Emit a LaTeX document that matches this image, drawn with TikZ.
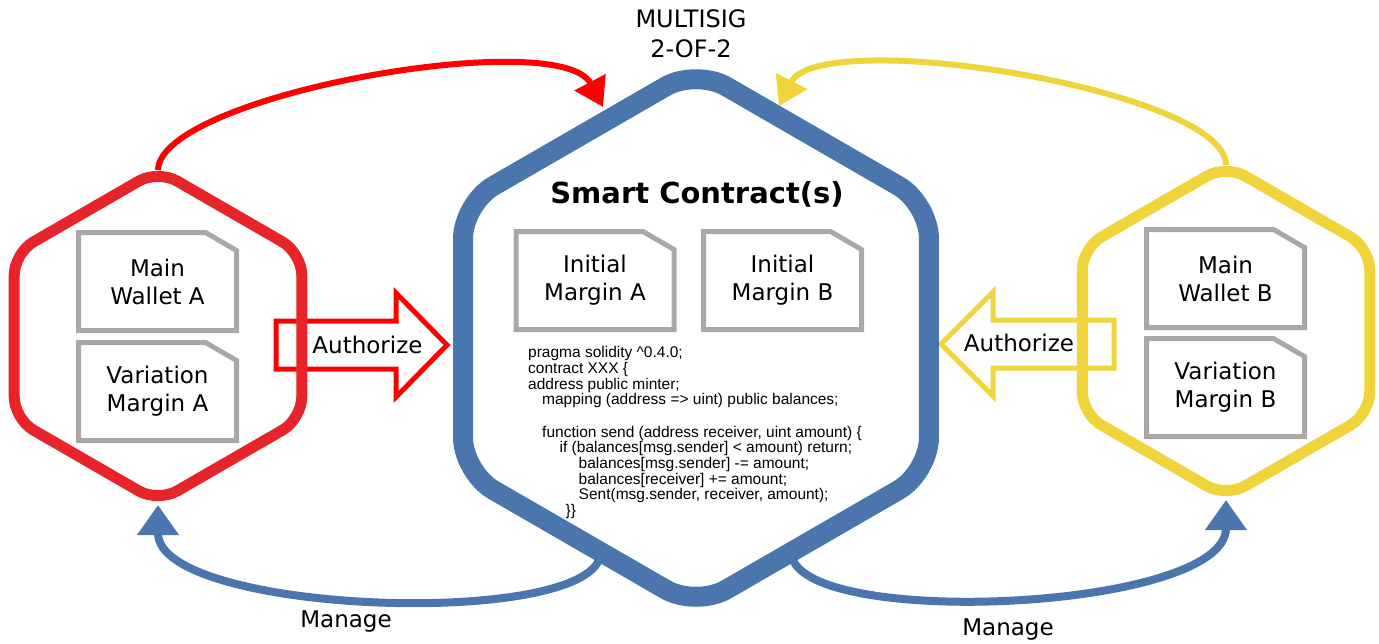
\documentclass[tikz,border=0pt]{standalone}
\usepackage{fontspec}
\setmainfont{DejaVu Sans}
\newfontfamily\codefont{Liberation Sans}
\usetikzlibrary{shapes.geometric, arrows.meta}

\definecolor{hexred}{RGB}{232,36,43}
\definecolor{arrred}{RGB}{255,0,0}
\definecolor{hexblue}{RGB}{74,118,173}
\definecolor{hexyellow}{RGB}{240,212,60}
\definecolor{docgray}{RGB}{171,167,167}

\tikzset{
	hexa/.style={regular polygon, regular polygon sides=6, shape border rotate=30, inner sep=0pt, outer sep=0pt},
	doc/.style={minimum width=158pt, minimum height=98pt, inner sep=0pt, outer sep=0pt, align=center, font=\fontsize{23}{28}\selectfont},
	docline/.style={draw=docgray, line width=5pt, line join=miter},
	txt/.style={font=\fontsize{23}{28}\selectfont, inner sep=0pt},
	authorize/.style={line width=5pt, line join=miter},
	sig/.style={line width=6pt, -{Triangle[length=28pt, width=34pt]}},
	manage/.style={draw=hexblue, line width=8pt, -{Triangle[length=30pt, width=40pt]}}
}

\begin{document}
\begin{tikzpicture}[x=1pt, y=-1pt]
			\useasboundingbox (0,0) rectangle (1379,643);

			% authorize arrows
			\draw[authorize, draw=arrred] (276,321) -- (396,321) -- (396,293) -- (447,345) -- (396,397) -- (396,369) -- (276,369) -- cycle;
			\draw[authorize, draw=hexyellow] (1114,320) -- (993,320) -- (993,292) -- (941,344) -- (993,396) -- (993,368) -- (1114,368) -- cycle;
			\node[txt] (authA) at (367.5,345) {Authorize};
			\node[txt] (authB) at (1019,343) {Authorize};

			% hexagons
			\node[hexa, draw=hexred, line width=11pt, rounded corners=22pt, minimum size=332pt] (walletA) at (158,336) {};
			\node[hexa, draw=hexblue, line width=20pt, rounded corners=35pt, minimum size=538pt] (contract) at (696,338) {};
			\node[hexa, draw=hexyellow, line width=11pt, rounded corners=22pt, minimum size=332pt] (walletB) at (1226,331) {};

			\node[txt, font=\fontsize{24}{30}\selectfont, align=center, anchor=north] (multisig) at (691,9.5) {MULTISIG\\2-OF-2};
			\node[font=\fontsize{29}{34}\selectfont\bfseries, anchor=base, inner sep=0pt] (title) at (697,203) {Smart Contract(s)};

			% documents
			\node[doc] (mwa) at (157.5,281.5) {Main\\Wallet A};
			\node[doc] (vma) at (157.5,391.5) {Variation\\Margin A};
			\node[doc] (ima) at (595,280.5) {Initial\\Margin A};
			\node[doc] (imb) at (782.5,280.5) {Initial\\Margin B};
			\node[doc] (mwb) at (1225.5,278.5) {Main\\Wallet B};
			\node[doc] (vmb) at (1225.5,387.5) {Variation\\Margin B};
			\foreach \n in {mwa, vma, ima, imb, mwb, vmb}
				\draw[docline] (\n.south west) -- (\n.north west) -- ([xshift=-31pt]\n.north east) -- ([yshift=-18pt]\n.north east) -- (\n.south east) -- cycle;

			\node[anchor=north west, inner sep=0pt, align=left, font=\codefont\fontsize{15.5}{15.6}\selectfont] (sol) at (528,346.5) {pragma solidity \textasciicircum0.4.0;\\
contract XXX \{\\
address public minter;\\
\hspace*{14pt}mapping (address => uint) public balances;\\[17pt]
\hspace*{14pt}function send (address receiver, uint amount) \{\\
\hspace*{31.5pt}if (balances[msg.sender] < amount) return;\\
\hspace*{50.5pt}balances[msg.sender] -= amount;\\
\hspace*{50.5pt}balances[receiver] += amount;\\
\hspace*{50.5pt}Sent(msg.sender, receiver, amount);\\
\hspace*{37.5pt}\}\}};

			% connectors
			\coordinate (sigA) at (603,107);
			\coordinate (sigB) at (779,106);
			\draw[sig, draw=arrred] (walletA.90) .. controls (160,95) and (560,25) .. (sigA);
			\draw[sig, draw=hexyellow] (walletB.90) .. controls (1226,90) and (820,25) .. (sigB);

			\draw[manage] (contract.246) .. controls (600,630) and (158,615) .. ([yshift=-3pt]walletA.south);
			\draw[manage] (contract.294) .. controls (792,630) and (1226,612) .. ([yshift=-3pt]walletB.south);
			\node[txt] (manA) at (346,621) {Manage};
			\node[txt] (manB) at (1008,629) {Manage};

			\end{tikzpicture}
\end{document}
